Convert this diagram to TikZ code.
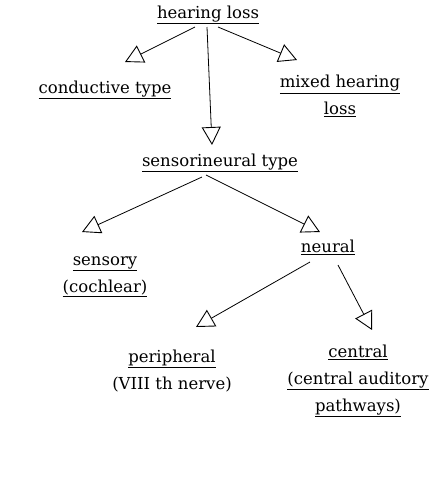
\documentclass[tikz,border=0pt]{standalone}
\usepackage{fontspec}
\setmainfont{DejaVu Serif}
\usetikzlibrary{arrows.meta,calc}
\newcommand{\ulx}[1]{\underline{#1}}
\tikzset{
  lbl/.style={inner sep=0pt,align=center,font=\fontsize{16.5}{27}\selectfont},
  arr/.style={draw=black,line width=0.8pt,-{Triangle[open,length=18pt,width=19pt,line width=0.9pt]}}
}
\begin{document}
\begin{tikzpicture}[x=1pt,y=1pt]
\useasboundingbox[fill=white] (0,0) rectangle (432,-480);
\node[lbl] (hl) at (208,-15) {\ulx{hearing loss}};
\node[lbl] (cond) at (105,-90) {\ulx{conductive type}};
\node[lbl] (mixed) at (340,-96) {\ulx{mixed hearing}\\\ulx{loss}};
\node[lbl] (sens) at (220,-163) {\ulx{sensorineural type}};
\node[lbl] (sensory) at (105,-277) {\ulx{sensory}\\\ulx{(cochlear)}};
\node[lbl] (neural) at (328,-247) {\ulx{neural}};
\node[lbl] (periph) at (172,-371) {\ulx{peripheral}\\(VIII th nerve)};
\node[lbl] (central) at (358,-381) {\ulx{central}\\\ulx{(central auditory}\\\ulx{pathways)}};
\draw[arr] ($(hl.center)+(-13,-12)$) -- ($(cond.center)+(20,28)$);
\draw[arr] ($(hl.center)+(-1,-12)$) -- ($(sens.center)+(-8,18)$);
\draw[arr] ($(hl.center)+(10,-12)$) -- ($(mixed.center)+(-43,36)$);
\draw[arr] ($(sens.center)+(-18,-14)$) -- ($(sensory.center)+(-23,45)$);
\draw[arr] ($(sens.center)+(-14,-12)$) -- ($(neural.center)+(-8,15)$);
\draw[arr] ($(neural.center)+(-18,-15)$) -- ($(periph.center)+(24,44)$);
\draw[arr] ($(neural.center)+(10,-18)$) -- ($(central.center)+(14,51)$);
\end{tikzpicture}
\end{document}
